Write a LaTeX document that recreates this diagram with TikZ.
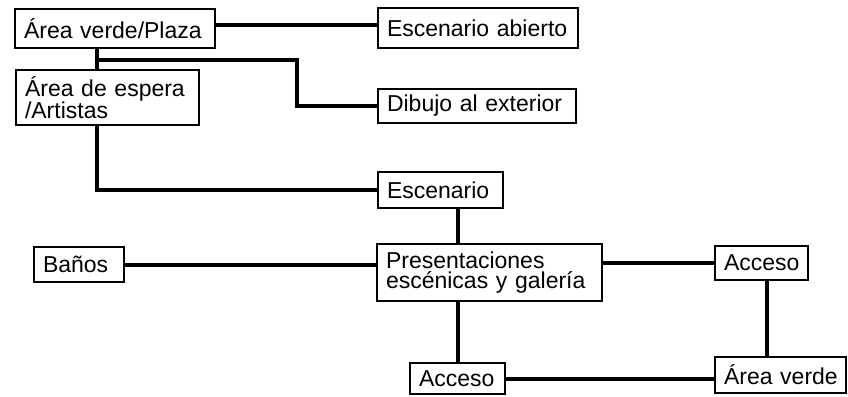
\documentclass[tikz,border=0pt]{standalone}
\usepackage{fontspec}
\setmainfont{Liberation Sans}
\begin{document}
\begin{tikzpicture}[x=1pt,y=-1pt,
  bx/.style n args={2}{draw,line width=2pt,fill=white,inner xsep=9pt,inner ysep=0pt,
    text width=#1-18pt,minimum height=#2,align=left,
    font=\fontsize{23}{20}\selectfont},
  conn/.style={line width=4pt}]
\useasboundingbox (0,0) rectangle (848,396);
\node[bx={200pt}{39pt}] (A1) at (115,28.5) {\mbox{Área verde/Plaza}};
\node[bx={183pt}{55pt}] (A2) at (107.5,97.5) {\mbox{Área de espera}\\\mbox{/Artistas}};
\node[bx={200pt}{40pt}] (EA) at (478,28) {\mbox{Escenario abierto}};
\node[bx={198pt}{34pt}] (DE) at (477,106) {\mbox{Dibujo al exterior}};
\node[bx={125pt}{36pt}] (ES) at (440.5,190) {\mbox{Escenario}};
\node[bx={90pt}{35pt}] (BA) at (79,264.5) {\mbox{Baños}};
\node[bx={225pt}{57pt}] (PR) at (489.5,272.5) {\mbox{Presentaciones}\\\mbox{escénicas y galería}};
\node[bx={93pt}{34pt}] (AC1) at (761.5,263) {\mbox{Acceso}};
\node[bx={131pt}{36pt}] (AV) at (780.5,375) {\mbox{Área verde}};
\node[bx={95pt}{31pt}] (AC2) at (457.5,378.5) {\mbox{Acceso}};
\coordinate (j1) at (97,60);
\coordinate (b1) at (297,60);
\draw[conn] ([yshift=3pt]A1.east) -- ([yshift=3pt]A1.east -| EA.west);
\draw[conn] (A1.south -| j1) -- (A2.north -| j1);
\draw[conn] (j1) -- (b1) |- (DE.west);
\draw[conn] (A2.south -| j1) |- (ES.west);
\draw[conn] (ES.south -| AC2.north) -- (PR.north -| AC2.north);
\draw[conn] (PR.south -| AC2.north) -- (AC2.north);
\draw[conn] (BA.east) -- (BA.east -| PR.west);
\draw[conn] (PR.east |- AC1.west) -- (AC1.west);
\draw[conn] ([xshift=5pt]AC1.south) -- ([xshift=5pt]AC1.south |- AV.north);
\draw[conn] (AC2.east) -- (AC2.east -| AV.west);
\end{tikzpicture}
\end{document}
